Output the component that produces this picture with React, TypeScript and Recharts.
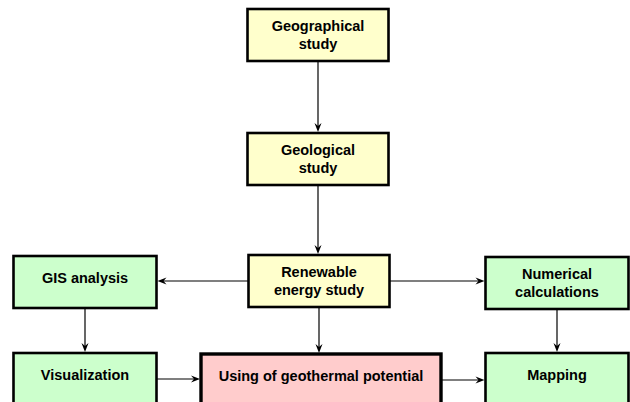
import React from 'react';
import { ScatterChart, Scatter, XAxis, YAxis, ReferenceLine } from 'recharts';

// diagram nodes (centre positions in diagram units, 1 unit = 1px)
const nodeIds = ['geo', 'geol', 'ren', 'gis', 'num', 'vis', 'use', 'map'];
const nodeLabels = [
  ['Geographical', 'study'],
  ['Geological', 'study'],
  ['Renewable', 'energy study'],
  ['GIS analysis'],
  ['Numerical', 'calculations'],
  ['Visualization'],
  ['Using of geothermal potential'],
  ['Mapping'],
];
const nodeKinds = ['study', 'study', 'study', 'method', 'method', 'method', 'goal', 'method'];
const nodeX = [318, 318, 319, 85, 557, 85, 321, 557];
const nodeY = [35, 159, 281, 282, 283, 379, 380, 379];

// edges: [from, to]
const edges: [string, string][] = [
  ['geo', 'geol'],
  ['geol', 'ren'],
  ['ren', 'gis'],
  ['ren', 'num'],
  ['ren', 'use'],
  ['gis', 'vis'],
  ['num', 'map'],
  ['vis', 'use'],
  ['use', 'map'],
];

const kindStyle: Record<string, { w: number; h: number; fill: string; stroke: number }> = {
  study: { w: 141, h: 52, fill: '#FFFFCC', stroke: 2.6 },
  method: { w: 143, h: 52, fill: '#CCFFCC', stroke: 2.6 },
  goal: { w: 240, h: 52, fill: '#FFCCCC', stroke: 3.4 },
};

const nodes = nodeIds.map((id, i) => ({
  id,
  x: nodeX[i],
  y: nodeY[i],
  lines: nodeLabels[i],
  kind: nodeKinds[i],
}));

const byId = (id: string) => nodes.find((n) => n.id === id)!;

const edgeSegments = edges.map(([a, b]) => {
  const f = byId(a);
  const t = byId(b);
  const fs = kindStyle[f.kind];
  const ts = kindStyle[t.kind];
  const vertical = Math.abs(f.x - t.x) < 20;
  if (vertical) {
    return [
      { x: f.x, y: f.y + fs.h / 2 + 1 },
      { x: f.x, y: t.y - ts.h / 2 - 1 },
    ];
  }
  const dir = t.x > f.x ? 1 : -1;
  return [
    { x: f.x + (dir * fs.w) / 2, y: f.y },
    { x: t.x - (dir * ts.w) / 2 - dir * 1, y: f.y },
  ];
});

const Arrow = (props: any) => {
  const { x1, y1, x2, y2 } = props;
  const dx = x2 - x1;
  const dy = y2 - y1;
  const len = Math.sqrt(dx * dx + dy * dy) || 1;
  const ux = dx / len;
  const uy = dy / len;
  const L = 9;
  const W = 3.5;
  const N = 6;
  const bx = x2 - ux * L;
  const by = y2 - uy * L;
  const pts = [
    `${x2},${y2}`,
    `${bx - uy * W},${by + ux * W}`,
    `${x2 - ux * N},${y2 - uy * N}`,
    `${bx + uy * W},${by - ux * W}`,
  ].join(' ');
  return (
    <g>
      <line x1={x1} y1={y1} x2={x2 - ux * 4} y2={y2 - uy * 4} stroke="#000" strokeWidth={1.2} />
      <polygon points={pts} fill="#000" />
    </g>
  );
};

const NodeBox = (props: any) => {
  const { cx, cy, payload } = props;
  const s = kindStyle[payload.kind];
  const lines: string[] = payload.lines;
  const offsets = lines.length === 2 ? [-9, 9] : [-4];
  return (
    <g>
      <rect
        x={cx - s.w / 2}
        y={cy - s.h / 2}
        width={s.w}
        height={s.h}
        fill={s.fill}
        stroke="#000"
        strokeWidth={s.stroke}
      />
      {lines.map((t, i) => (
        <text
          key={i}
          x={cx}
          y={cy + offsets[i] + 5}
          textAnchor="middle"
          fontFamily="'Liberation Sans', Arial, sans-serif"
          fontWeight="bold"
          fontSize={14.5}
          fill="#000"
        >
          {t}
        </text>
      ))}
    </g>
  );
};

export default function App() {
  return (
    <div style={{ position: 'fixed', left: 0, top: 0, width: 630, height: 402, background: '#fff' }}>
      <ScatterChart width={630} height={402} margin={{ top: 0, right: 0, bottom: 0, left: 0 }}>
        <XAxis type="number" dataKey="x" domain={[0, 630]} hide />
        <YAxis type="number" dataKey="y" domain={[0, 402]} reversed hide />
        <Scatter data={nodes} shape={<NodeBox />} isAnimationActive={false} />
        {edgeSegments.map((seg, i) => (
          <ReferenceLine key={i} segment={seg} shape={<Arrow />} ifOverflow="visible" />
        ))}
      </ScatterChart>
    </div>
  );
}
